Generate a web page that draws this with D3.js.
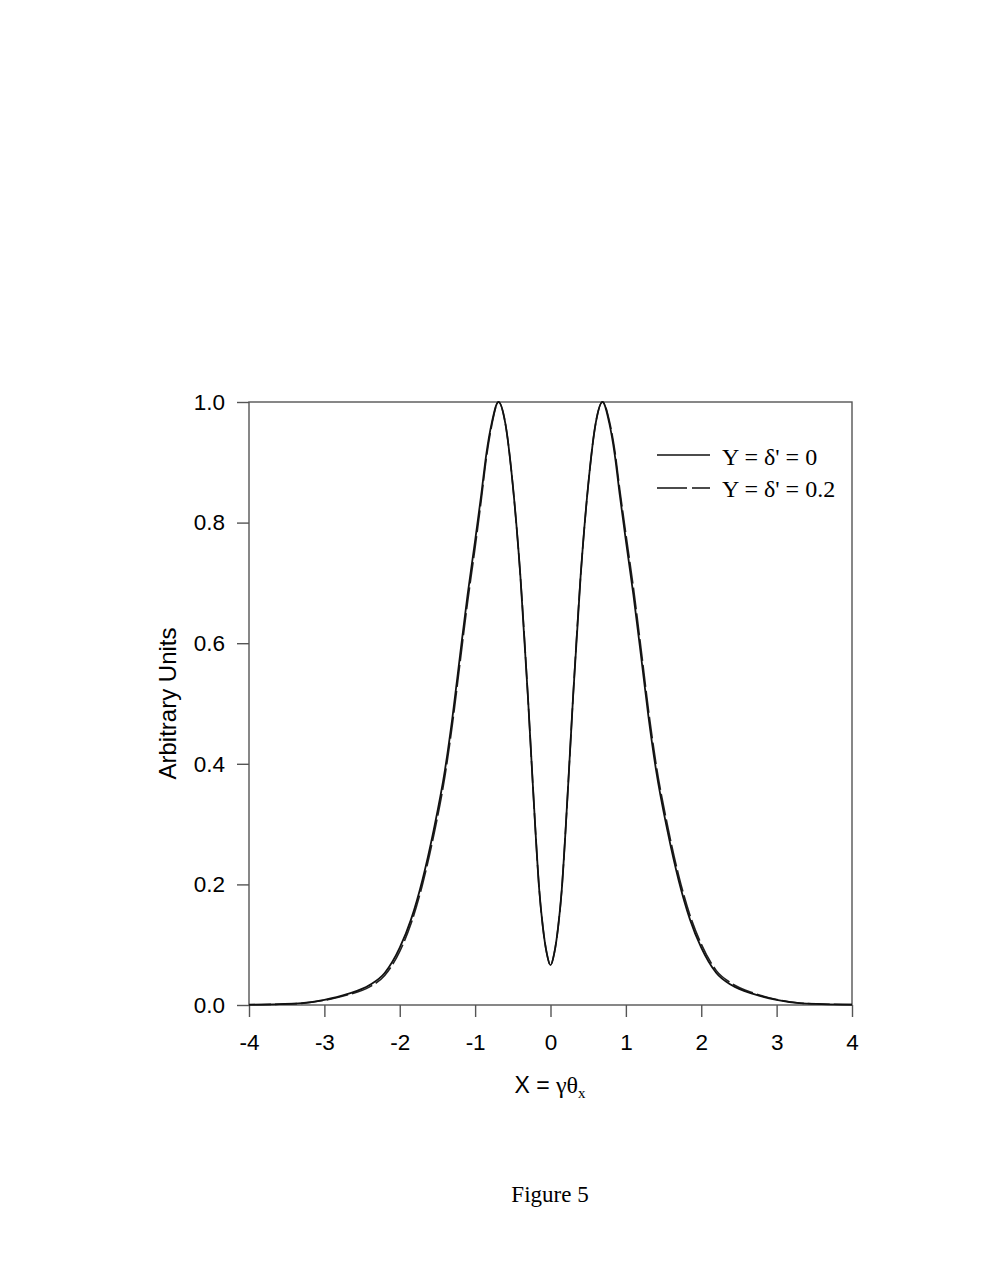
<!DOCTYPE html>
<html>
<head>
<meta charset="utf-8">
<script src="https://cdn.jsdelivr.net/npm/d3@7"></script>
<style>
  html, body { margin: 0; padding: 0; background: #fff; }
  svg { display: block; }
</style>
</head>
<body>
<svg id="chart" width="982" height="1285"></svg>
<script>
// ---- data ----
const xValues = [-4,-3.6,-3.3,-3.0,-2.7,-2.4,-2.2,-2.0,-1.85,-1.7,-1.55,-1.4,-1.3,-1.2,-1.1,-1.0,-0.92,-0.85,-0.78,-0.69,-0.6,-0.5,-0.4,-0.3,-0.25,-0.2,-0.15,-0.1,-0.05,0,
  0.05,0.1,0.15,0.2,0.25,0.3,0.4,0.5,0.6,0.69,0.78,0.85,0.92,1.0,1.1,1.2,1.3,1.4,1.55,1.7,1.85,2.0,2.2,2.4,2.7,3.0,3.3,3.6,4];
const seriesY0 = [0.0005,0.0015,0.003,0.0085,0.018,0.033,0.053,0.095,0.142,0.207,0.290,0.390,0.478,0.580,0.680,0.770,0.845,0.915,0.965,1.0,0.965,0.862,0.712,0.512,0.400,0.290,0.192,0.128,0.086,0.066,
  0.086,0.128,0.192,0.290,0.400,0.512,0.712,0.862,0.965,1.0,0.965,0.915,0.845,0.770,0.680,0.580,0.478,0.390,0.290,0.207,0.142,0.095,0.053,0.033,0.018,0.0085,0.003,0.0015,0.0005];
const seriesY02 = [0.0004,0.0013,0.0027,0.0078,0.0165,0.030,0.049,0.089,0.135,0.199,0.281,0.380,0.467,0.568,0.668,0.759,0.836,0.908,0.961,1.0,0.965,0.862,0.712,0.512,0.400,0.290,0.192,0.128,0.086,0.066,
  0.086,0.128,0.192,0.290,0.400,0.512,0.712,0.862,0.965,1.0,0.969,0.922,0.854,0.781,0.692,0.592,0.489,0.400,0.299,0.215,0.149,0.101,0.057,0.036,0.0195,0.0092,0.0033,0.0017,0.0006];
const xTicks = [-4,-3,-2,-1,0,1,2,3,4];
const xTickLabels = ["-4","-3","-2","-1","0","1","2","3","4"];
const yTicks = [0,0.2,0.4,0.6,0.8,1.0];
const yTickLabels = ["0.0","0.2","0.4","0.6","0.8","1.0"];
const legendLabels = ["Y = \u03b4' = 0", "Y = \u03b4' = 0.2"];

(function () {
// ---- layout ----
const pL = 249, pR = 852, pT = 402, pB = 1005;
const svg = d3.select("#chart");
const x = d3.scaleLinear().domain([-4, 4]).range([pL, pR]);
const y = d3.scaleLinear().domain([0, 1]).range([pB, pT]);
const axisColor = "#555";
const sans = "'Liberation Sans', Arial, sans-serif";
const serif = "'Liberation Serif', 'Times New Roman', serif";

// frame
svg.append("rect")
  .attr("x", pL).attr("y", pT)
  .attr("width", pR - pL).attr("height", pB - pT)
  .attr("fill", "none").attr("stroke", axisColor).attr("stroke-width", 1.4);

// axes
const xAxis = d3.axisBottom(x).tickValues(xTicks)
  .tickFormat((d, i) => xTickLabels[i]).tickSize(12).tickSizeOuter(0).tickPadding(17);
const gx = svg.append("g").attr("transform", `translate(0,${pB})`).call(xAxis);
gx.select(".domain").remove();
gx.selectAll(".tick line").attr("stroke", axisColor).attr("stroke-width", 1.4);
gx.selectAll(".tick text").attr("fill", "#000")
  .style("font-family", sans).style("font-size", "22.5px");

const yAxis = d3.axisLeft(y).tickValues(yTicks)
  .tickFormat((d, i) => yTickLabels[i]).tickSize(12).tickSizeOuter(0).tickPadding(12);
const gy = svg.append("g").attr("transform", `translate(${pL},0)`).call(yAxis);
gy.select(".domain").remove();
gy.selectAll(".tick line").attr("stroke", axisColor).attr("stroke-width", 1.4);
gy.selectAll(".tick text").attr("fill", "#000")
  .style("font-family", sans).style("font-size", "22.5px");

// curves
const pts0 = xValues.map((v, i) => [v, seriesY0[i]]);
const pts2 = xValues.map((v, i) => [v, seriesY02[i]]);
const line = d3.line().x(d => x(d[0])).y(d => y(d[1])).curve(d3.curveMonotoneX);

svg.append("path").datum(pts2).attr("d", line)
  .attr("fill", "none").attr("stroke", "#222").attr("stroke-width", 1.6)
  .attr("stroke-dasharray", "22,4");
svg.append("path").datum(pts0).attr("d", line)
  .attr("fill", "none").attr("stroke", "#111").attr("stroke-width", 1.8);

// legend
const lg = svg.append("g");
lg.append("line").attr("x1", 657).attr("x2", 710).attr("y1", 455).attr("y2", 455)
  .attr("stroke", "#111").attr("stroke-width", 1.3);
lg.append("line").attr("x1", 657).attr("x2", 710).attr("y1", 488).attr("y2", 488)
  .attr("stroke", "#111").attr("stroke-width", 1.3).attr("stroke-dasharray", "30,5");
lg.selectAll("text.leg").data(legendLabels).enter().append("text")
  .attr("class", "leg")
  .attr("x", 722).attr("y", (d, i) => 465 + i * 32)
  .style("font-family", serif)
  .style("font-size", "24px").text(d => d);

// y axis title
svg.append("text")
  .attr("transform", `translate(176,${(pT + pB) / 2}) rotate(-90)`)
  .attr("text-anchor", "middle")
  .style("font-family", sans).style("font-size", "24px")
  .text("Arbitrary Units");

// x axis title
const xt = svg.append("text")
  .attr("x", 550).attr("y", 1093).attr("text-anchor", "middle")
  .style("font-family", sans).style("font-size", "23px");
xt.append("tspan").text("X = ");
xt.append("tspan").style("font-family", serif).style("font-size", "24px").text("\u03b3\u03b8");
xt.append("tspan").attr("dy", 5).style("font-family", serif)
  .style("font-size", "15px").text("x");

// caption
svg.append("text").attr("x", 550).attr("y", 1202).attr("text-anchor", "middle")
  .style("font-family", serif).style("font-size", "23px")
  .text("Figure 5");
})();
</script>
</body>
</html>
